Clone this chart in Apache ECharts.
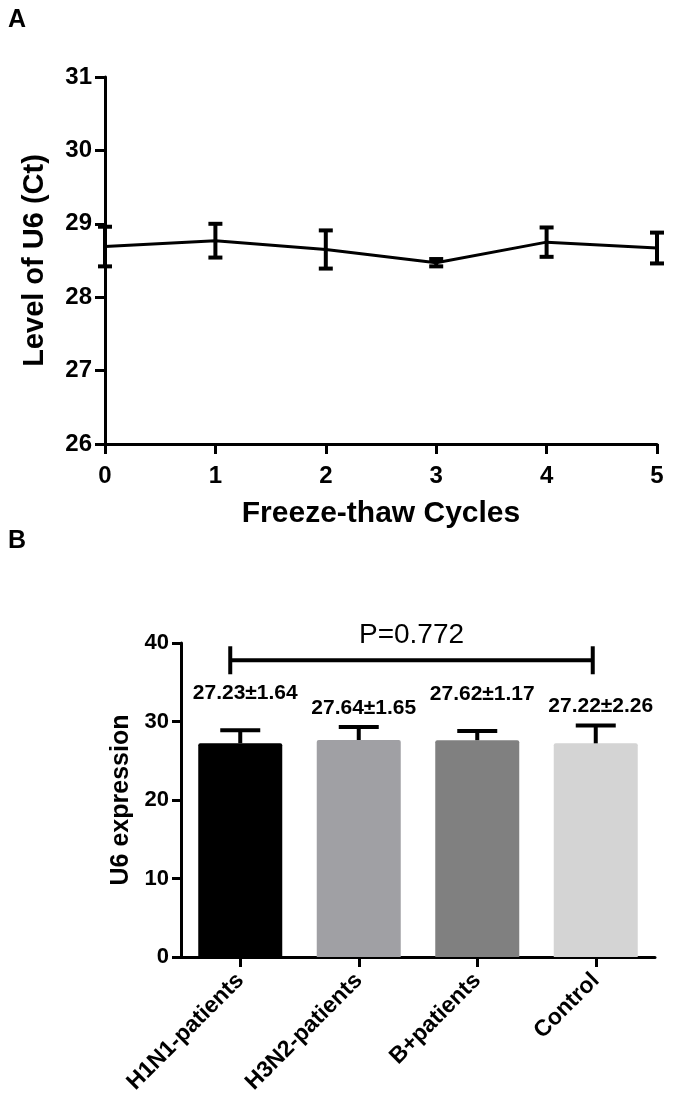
<!DOCTYPE html>
<html><head><meta charset="utf-8">
<script src="https://cdn.jsdelivr.net/npm/echarts@6/dist/echarts.min.js"></script>
<style>html,body{margin:0;padding:0;background:#fff}#c{width:674px;height:1106px}</style>
</head><body><div id="c"></div>
<script>
// Panel A data
const cycles = [0, 1, 2, 3, 4, 5];
const u6Ct = [28.69, 28.77, 28.65, 28.47, 28.75, 28.67];
const u6CtErr = [0.27, 0.23, 0.26, 0.05, 0.20, 0.21];
const ctTicks = [26, 27, 28, 29, 30, 31];
// Panel B data
const groups = ['H1N1-patients', 'H3N2-patients', 'B+patients', 'Control'];
const u6Expr = [27.23, 27.64, 27.62, 27.22];
const u6Sd = [1.64, 1.65, 1.17, 2.26];
const groupColors = ['#000000', '#a0a0a4', '#808080', '#d4d4d4'];
const pValueText = 'P=0.772';
const pLineLevel = 37.8;

const FF = '"Liberation Sans", Arial, sans-serif';
const chart = echarts.init(document.getElementById('c'), null, {renderer: 'canvas'});

const axisLine = {show: true, lineStyle: {color: '#000', width: 3}};
const axisTickOut = (len) => ({show: true, inside: false, length: len, lineStyle: {color: '#000', width: 3}});

chart.setOption({
  backgroundColor: '#fff',
  animation: false,
  graphic: [
    {type: 'text', left: 8, top: 8, style: {text: 'A', font: 'bold 25px ' + FF, fill: '#000'}},
    {type: 'text', left: 8, top: 529, style: {text: 'B', font: 'bold 25px ' + FF, fill: '#000'}}
  ],
  grid: [
    {left: 105, top: 77, width: 552, height: 367, outerBoundsMode: 'none', containLabel: false},
    {left: 181, top: 643, width: 474, height: 314, outerBoundsMode: 'none', containLabel: false}
  ],
  xAxis: [
    {
      gridIndex: 0, type: 'value', min: 0, max: 5, interval: 1,
      name: 'Freeze-thaw Cycles', nameLocation: 'middle', nameGap: 55, nameMoveOverlap: false,
      nameTextStyle: {fontFamily: FF, fontWeight: 'bold', fontSize: 30, color: '#000'},
      axisLine: axisLine, axisTick: axisTickOut(10), splitLine: {show: false},
      axisLabel: {fontFamily: FF, fontWeight: 'bold', fontSize: 24, color: '#000', margin: 20}
    },
    {
      gridIndex: 1, type: 'category', data: groups,
      axisLine: axisLine, axisTick: Object.assign(axisTickOut(10), {alignWithLabel: true}),
      axisLabel: {fontFamily: FF, fontWeight: 'bold', fontSize: 23, color: '#000', rotate: 45, margin: 20, interval: 0}
    }
  ],
  yAxis: [
    {
      gridIndex: 0, type: 'value', min: 26, max: 31, interval: 1,
      name: 'Level of U6 (Ct)', nameLocation: 'middle', nameGap: 56, nameMoveOverlap: false,
      nameTextStyle: {fontFamily: FF, fontWeight: 'bold', fontSize: 29, color: '#000'},
      axisLine: axisLine, axisTick: axisTickOut(10), splitLine: {show: false},
      axisLabel: {fontFamily: FF, fontWeight: 'bold', fontSize: 24, color: '#000', margin: 13}
    },
    {
      gridIndex: 1, type: 'value', min: 0, max: 40, interval: 10,
      name: 'U6 expression', nameLocation: 'middle', nameGap: 47, nameMoveOverlap: false,
      nameTextStyle: {fontFamily: FF, fontWeight: 'bold', fontSize: 25, color: '#000'},
      axisLine: axisLine, axisTick: axisTickOut(9), splitLine: {show: false},
      axisLabel: {fontFamily: FF, fontWeight: 'bold', fontSize: 22, color: '#000', margin: 12}
    }
  ],
  series: [
    {
      type: 'line', xAxisIndex: 0, yAxisIndex: 0, symbol: 'none',
      lineStyle: {color: '#000', width: 3},
      data: cycles.map((c, i) => [c, u6Ct[i]]), z: 3
    },
    {
      type: 'custom', xAxisIndex: 0, yAxisIndex: 0, z: 4,
      data: cycles.map((c, i) => [c, u6Ct[i] - u6CtErr[i], u6Ct[i] + u6CtErr[i]]),
      renderItem: function (params, api) {
        const lo = api.coord([api.value(0), api.value(1)]);
        const hi = api.coord([api.value(0), api.value(2)]);
        const hw = 7;
        const st = {stroke: '#000', lineWidth: 4};
        return {type: 'group', children: [
          {type: 'line', shape: {x1: lo[0], y1: lo[1], x2: hi[0], y2: hi[1]}, style: st},
          {type: 'line', shape: {x1: lo[0] - hw, y1: lo[1], x2: lo[0] + hw, y2: lo[1]}, style: st},
          {type: 'line', shape: {x1: hi[0] - hw, y1: hi[1], x2: hi[0] + hw, y2: hi[1]}, style: st}
        ]};
      }
    },
    {
      type: 'bar', xAxisIndex: 1, yAxisIndex: 1, barWidth: 84,
      data: u6Expr.map((v, i) => ({value: v, itemStyle: {color: groupColors[i], borderRadius: [2, 2, 0, 0]}})),
      z: 2
    },
    {
      type: 'custom', xAxisIndex: 1, yAxisIndex: 1, z: 5,
      data: groups.map((g, i) => [i, u6Expr[i], u6Expr[i] + u6Sd[i], u6Sd[i]]),
      renderItem: function (params, api) {
        const i = api.value(0);
        const m = api.coord([i, api.value(1)]);
        const t = api.coord([i, api.value(2)]);
        const hw = 20;
        const st = {stroke: '#000', lineWidth: 4};
        const lift = (i % 2 === 0) ? 37 : 19;
        const txt = api.value(1).toFixed(2) + '\u00b1' + api.value(3).toFixed(2);
        return {type: 'group', children: [
          {type: 'line', shape: {x1: m[0], y1: m[1], x2: t[0], y2: t[1]}, style: st},
          {type: 'line', shape: {x1: t[0] - hw, y1: t[1], x2: t[0] + hw, y2: t[1]}, style: st},
          {type: 'text', x: t[0] + 5, y: t[1] - lift, style: {text: txt, font: 'bold 21px ' + FF, fill: '#000', align: 'center', verticalAlign: 'middle'}}
        ]};
      }
    },
    {
      type: 'custom', xAxisIndex: 1, yAxisIndex: 1, z: 5,
      data: [[0, 3, pLineLevel]],
      renderItem: function (params, api) {
        const a = api.coord([api.value(0), api.value(2)]);
        const b = api.coord([api.value(1), api.value(2)]);
        const x1 = a[0] - 10, x2 = b[0] - 3, y = a[1];
        const st = {stroke: '#000', lineWidth: 4};
        return {type: 'group', children: [
          {type: 'line', shape: {x1: x1, y1: y, x2: x2, y2: y}, style: st},
          {type: 'line', shape: {x1: x1, y1: y - 14, x2: x1, y2: y + 14}, style: st},
          {type: 'line', shape: {x1: x2, y1: y - 14, x2: x2, y2: y + 14}, style: st},
          {type: 'text', x: (x1 + x2) / 2, y: y - 25, style: {text: pValueText, font: '28px ' + FF, fill: '#000', align: 'center', verticalAlign: 'middle'}}
        ]};
      }
    }
  ]
});
</script>
</body></html>
